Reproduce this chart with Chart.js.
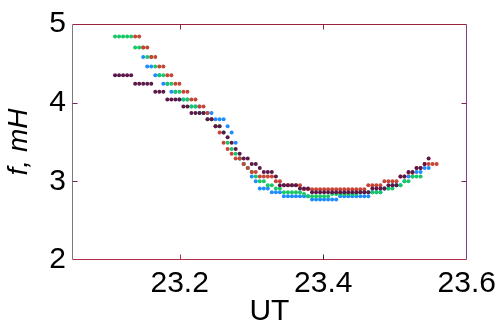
<!DOCTYPE html>
<html>
<head>
<meta charset="utf-8">
<script src="https://cdn.jsdelivr.net/npm/chart.js@4.4.0/dist/chart.umd.min.js"></script>
<style>
  html, body { margin: 0; padding: 0; background: #fff; }
</style>
</head>
<body>
<canvas id="chart" width="502" height="330"></canvas>
<script>
// sample times, UT hours
const ut = [
  23.1100, 23.1156, 23.1212, 23.1268, 23.1324, 23.1380, 23.1436, 23.1492, 23.1548, 23.1604,
  23.1660, 23.1716, 23.1772, 23.1828, 23.1884, 23.1940, 23.1996, 23.2052, 23.2108, 23.2164,
  23.2220, 23.2276, 23.2332, 23.2388, 23.2444, 23.2500, 23.2556, 23.2612, 23.2668, 23.2724,
  23.2780, 23.2836, 23.2892, 23.2948, 23.3004, 23.3060, 23.3116, 23.3172, 23.3228, 23.3284,
  23.3340, 23.3396, 23.3452, 23.3508, 23.3564, 23.3620, 23.3676, 23.3732, 23.3788, 23.3844,
  23.3900, 23.3956, 23.4012, 23.4068, 23.4124, 23.4180, 23.4236, 23.4292, 23.4348, 23.4404,
  23.4460, 23.4516, 23.4572, 23.4628, 23.4684, 23.4740, 23.4796, 23.4852, 23.4908, 23.4964,
  23.5020, 23.5076, 23.5132, 23.5188, 23.5244, 23.5300, 23.5356, 23.5412, 23.5468, 23.5524,
  23.5580
];

// f, mH for each station
const fPurple = [
  4.35, 4.35, 4.35, 4.35, 4.35, 4.24, 4.24, 4.24, 4.24, 4.24,
  4.14, 4.14, 4.14, 4.04, 4.04, 4.04, 4.04, 3.95, 3.95, 3.87,
  3.87, 3.87, 3.87, 3.79, 3.79, 3.70, 3.70, 3.62, 3.56, 3.49,
  3.41, 3.35, 3.29, 3.29, 3.22, 3.22, 3.17, 3.12, 3.12, 3.12,
  3.06, 2.95, 2.95, 2.95, 2.95, 2.95, 2.91, 2.91, 2.91, 2.86,
  2.86, 2.86, 2.86, 2.86, 2.86, 2.86, 2.86, 2.86, 2.86, 2.86,
  2.86, 2.86, 2.86, 2.86, 2.91, 2.91, 2.91, 2.91, 2.95, 2.95,
  2.95, 3.06, 3.06, 3.12, 3.12, 3.17, 3.17, 3.22, 3.29, null,
  null
];
const fRed = [
  null, null, null, null, null, 4.84, 4.84, 4.70, 4.70, 4.58,
  4.58, 4.46, 4.46, 4.35, 4.35, 4.24, 4.24, 4.14, 4.14, 4.04,
  4.04, 3.95, 3.95, 3.87, 3.79, 3.70, 3.62, 3.49, 3.41, 3.35,
  3.29, 3.29, 3.22, 3.17, 3.12, 3.12, 3.06, 3.06, 3.06, 3.06,
  3.00, 3.00, 2.95, 2.95, 2.95, 2.95, 2.95, 2.90, 2.90, 2.90,
  2.90, 2.90, 2.90, 2.90, 2.90, 2.90, 2.90, 2.90, 2.90, 2.90,
  2.90, 2.90, 2.90, 2.95, 2.95, 2.95, 2.95, 3.00, 3.00, 3.00,
  3.00, 3.06, 3.06, 3.11, 3.11, 3.17, 3.17, 3.22, 3.22, 3.22,
  3.22
];
const fGreen = [
  4.84, 4.84, 4.84, 4.84, 4.84, 4.70, 4.70, 4.70, 4.58, 4.58,
  4.46, 4.35, 4.35, 4.24, 4.24, 4.14, 4.14, 4.04, 4.04, 3.95,
  3.95, 3.87, 3.87, 3.79, 3.79, 3.70, 3.70, 3.62, 3.49, 3.41,
  3.35, 3.29, 3.22, 3.17, 3.12, 3.06, 3.00, 3.00, 2.95, 2.95,
  2.91, 2.91, 2.86, 2.86, 2.86, 2.86, 2.86, 2.84, 2.81, 2.81,
  2.81, 2.81, 2.81, 2.81, 2.84, 2.84, 2.84, 2.84, 2.84, 2.84,
  2.84, 2.86, 2.86, 2.86, 2.86, 2.86, 2.86, 2.91, 2.91, 2.91,
  2.95, 2.95, 3.00, 3.00, 3.06, 3.06, 3.06, null, null, null,
  null
];
const fBlue = [
  null, null, null, null, null, null, null, 4.58, 4.46, 4.46,
  4.35, 4.35, 4.24, 4.24, 4.14, 4.14, 4.04, 4.04, 4.04, 3.95,
  3.95, 3.95, 3.87, 3.87, 3.87, 3.79, 3.79, 3.79, 3.70, 3.62,
  3.49, 3.29, 3.22, 3.17, 3.06, 3.00, 2.91, 2.91, 2.91, 2.86,
  2.86, 2.86, 2.81, 2.81, 2.81, 2.81, 2.81, 2.81, 2.81, 2.77,
  2.77, 2.77, 2.77, 2.77, 2.77, 2.77, 2.81, 2.81, 2.81, 2.81,
  2.81, 2.81, 2.81, 2.81, 2.86, 2.86, 2.86, 2.91, 2.91, 2.95,
  2.95, 2.95, 3.00, 3.06, 3.06, 3.12, 3.12, 3.17, 3.17, null,
  null
];

const xTicks = [23.2, 23.4, 23.6];
const yTicks = [2, 3, 4, 5];

function toPoints(vals) {
  return ut.map((t, i) => ({ x: t, y: vals[i] })).filter(p => p.y !== null);
}

// first dataset is drawn on top
const series = [
  { data: fPurple, color: 'rgb(92, 24, 72)' },
  { data: fRed, color: 'rgb(200, 68, 52)' },
  { data: fGreen, color: 'rgb(24, 200, 104)' },
  { data: fBlue, color: 'rgb(30, 140, 255)' }
];

// box around the plot, with inward ticks
const frame = {
  id: 'frame',
  afterDraw(chart) {
    const { ctx, chartArea: a, scales: { x, y } } = chart;
    const L = Math.round(a.left) + 0.5, R = Math.round(a.right) - 0.5;
    const T = Math.round(a.top) + 0.5, B = Math.round(a.bottom) - 0.5;
    const line = (x1, y1, x2, y2, c) => {
      ctx.beginPath();
      ctx.strokeStyle = c;
      ctx.lineWidth = 1;
      ctx.moveTo(x1, y1);
      ctx.lineTo(x2, y2);
      ctx.stroke();
    };
    ctx.save();
    line(L, T, R, T, '#9a2040');
    line(L, B, R, B, '#b03048');
    line(L, T, L, B, '#7a7a7a');
    line(R, T, R, B, '#8a3c84');
    xTicks.forEach(v => {
      const px = Math.round(x.getPixelForValue(v)) + 0.5;
      if (px > R - 2) return;
      line(px, B, px, B - 5, v === 23.4 ? '#333' : '#b03048');
      line(px, T, px, T + 5, '#9a2040');
    });
    yTicks.forEach(v => {
      const py = Math.round(y.getPixelForValue(v)) + 0.5;
      if (py < T + 2 || py > B - 2) return;
      line(L, py, L + 5, py, '#7a2060');
      line(R, py, R - 5, py, '#7a2060');
    });
    ctx.restore();
  }
};

new Chart(document.getElementById('chart'), {
  type: 'scatter',
  data: {
    datasets: series.map(s => ({
      data: toPoints(s.data),
      backgroundColor: s.color,
      borderWidth: 0,
      pointRadius: 2,
      pointHoverRadius: 2,
      showLine: false
    }))
  },
  options: {
    responsive: false,
    animation: false,
    events: [],
    layout: { padding: { top: 20, right: 35, left: 0, bottom: 0 } },
    plugins: { legend: { display: false }, tooltip: { enabled: false } },
    scales: {
      x: {
        type: 'linear',
        min: 23.05,
        max: 23.6,
        afterBuildTicks: s => { s.ticks = xTicks.map(v => ({ value: v })); },
        afterFit: s => { s.height = 70; },
        grid: { display: false, drawTicks: false },
        border: { display: false },
        ticks: {
          padding: 6,
          color: '#000',
          maxRotation: 0,
          font: { family: 'Liberation Sans, Arial, sans-serif', size: 30 },
          callback: v => v.toFixed(1)
        },
        title: {
          display: true,
          text: 'UT',
          color: '#000',
          padding: { top: 0, bottom: 0 },
          font: { family: 'Liberation Sans, Arial, sans-serif', size: 30 }
        }
      },
      y: {
        min: 2,
        max: 5,
        afterBuildTicks: s => { s.ticks = yTicks.map(v => ({ value: v })); },
        afterFit: s => { s.width = 72; },
        grid: { display: false, drawTicks: false },
        border: { display: false },
        ticks: {
          padding: 6,
          color: '#000',
          font: { family: 'Liberation Sans, Arial, sans-serif', size: 30 },
          callback: v => String(v)
        },
        title: {
          display: true,
          text: 'f, mH',
          color: '#000',
          padding: { top: 2, bottom: 0 },
          font: { family: 'Liberation Sans, Arial, sans-serif', size: 28, style: 'italic' }
        }
      }
    }
  },
  plugins: [frame]
});
</script>
</body>
</html>
